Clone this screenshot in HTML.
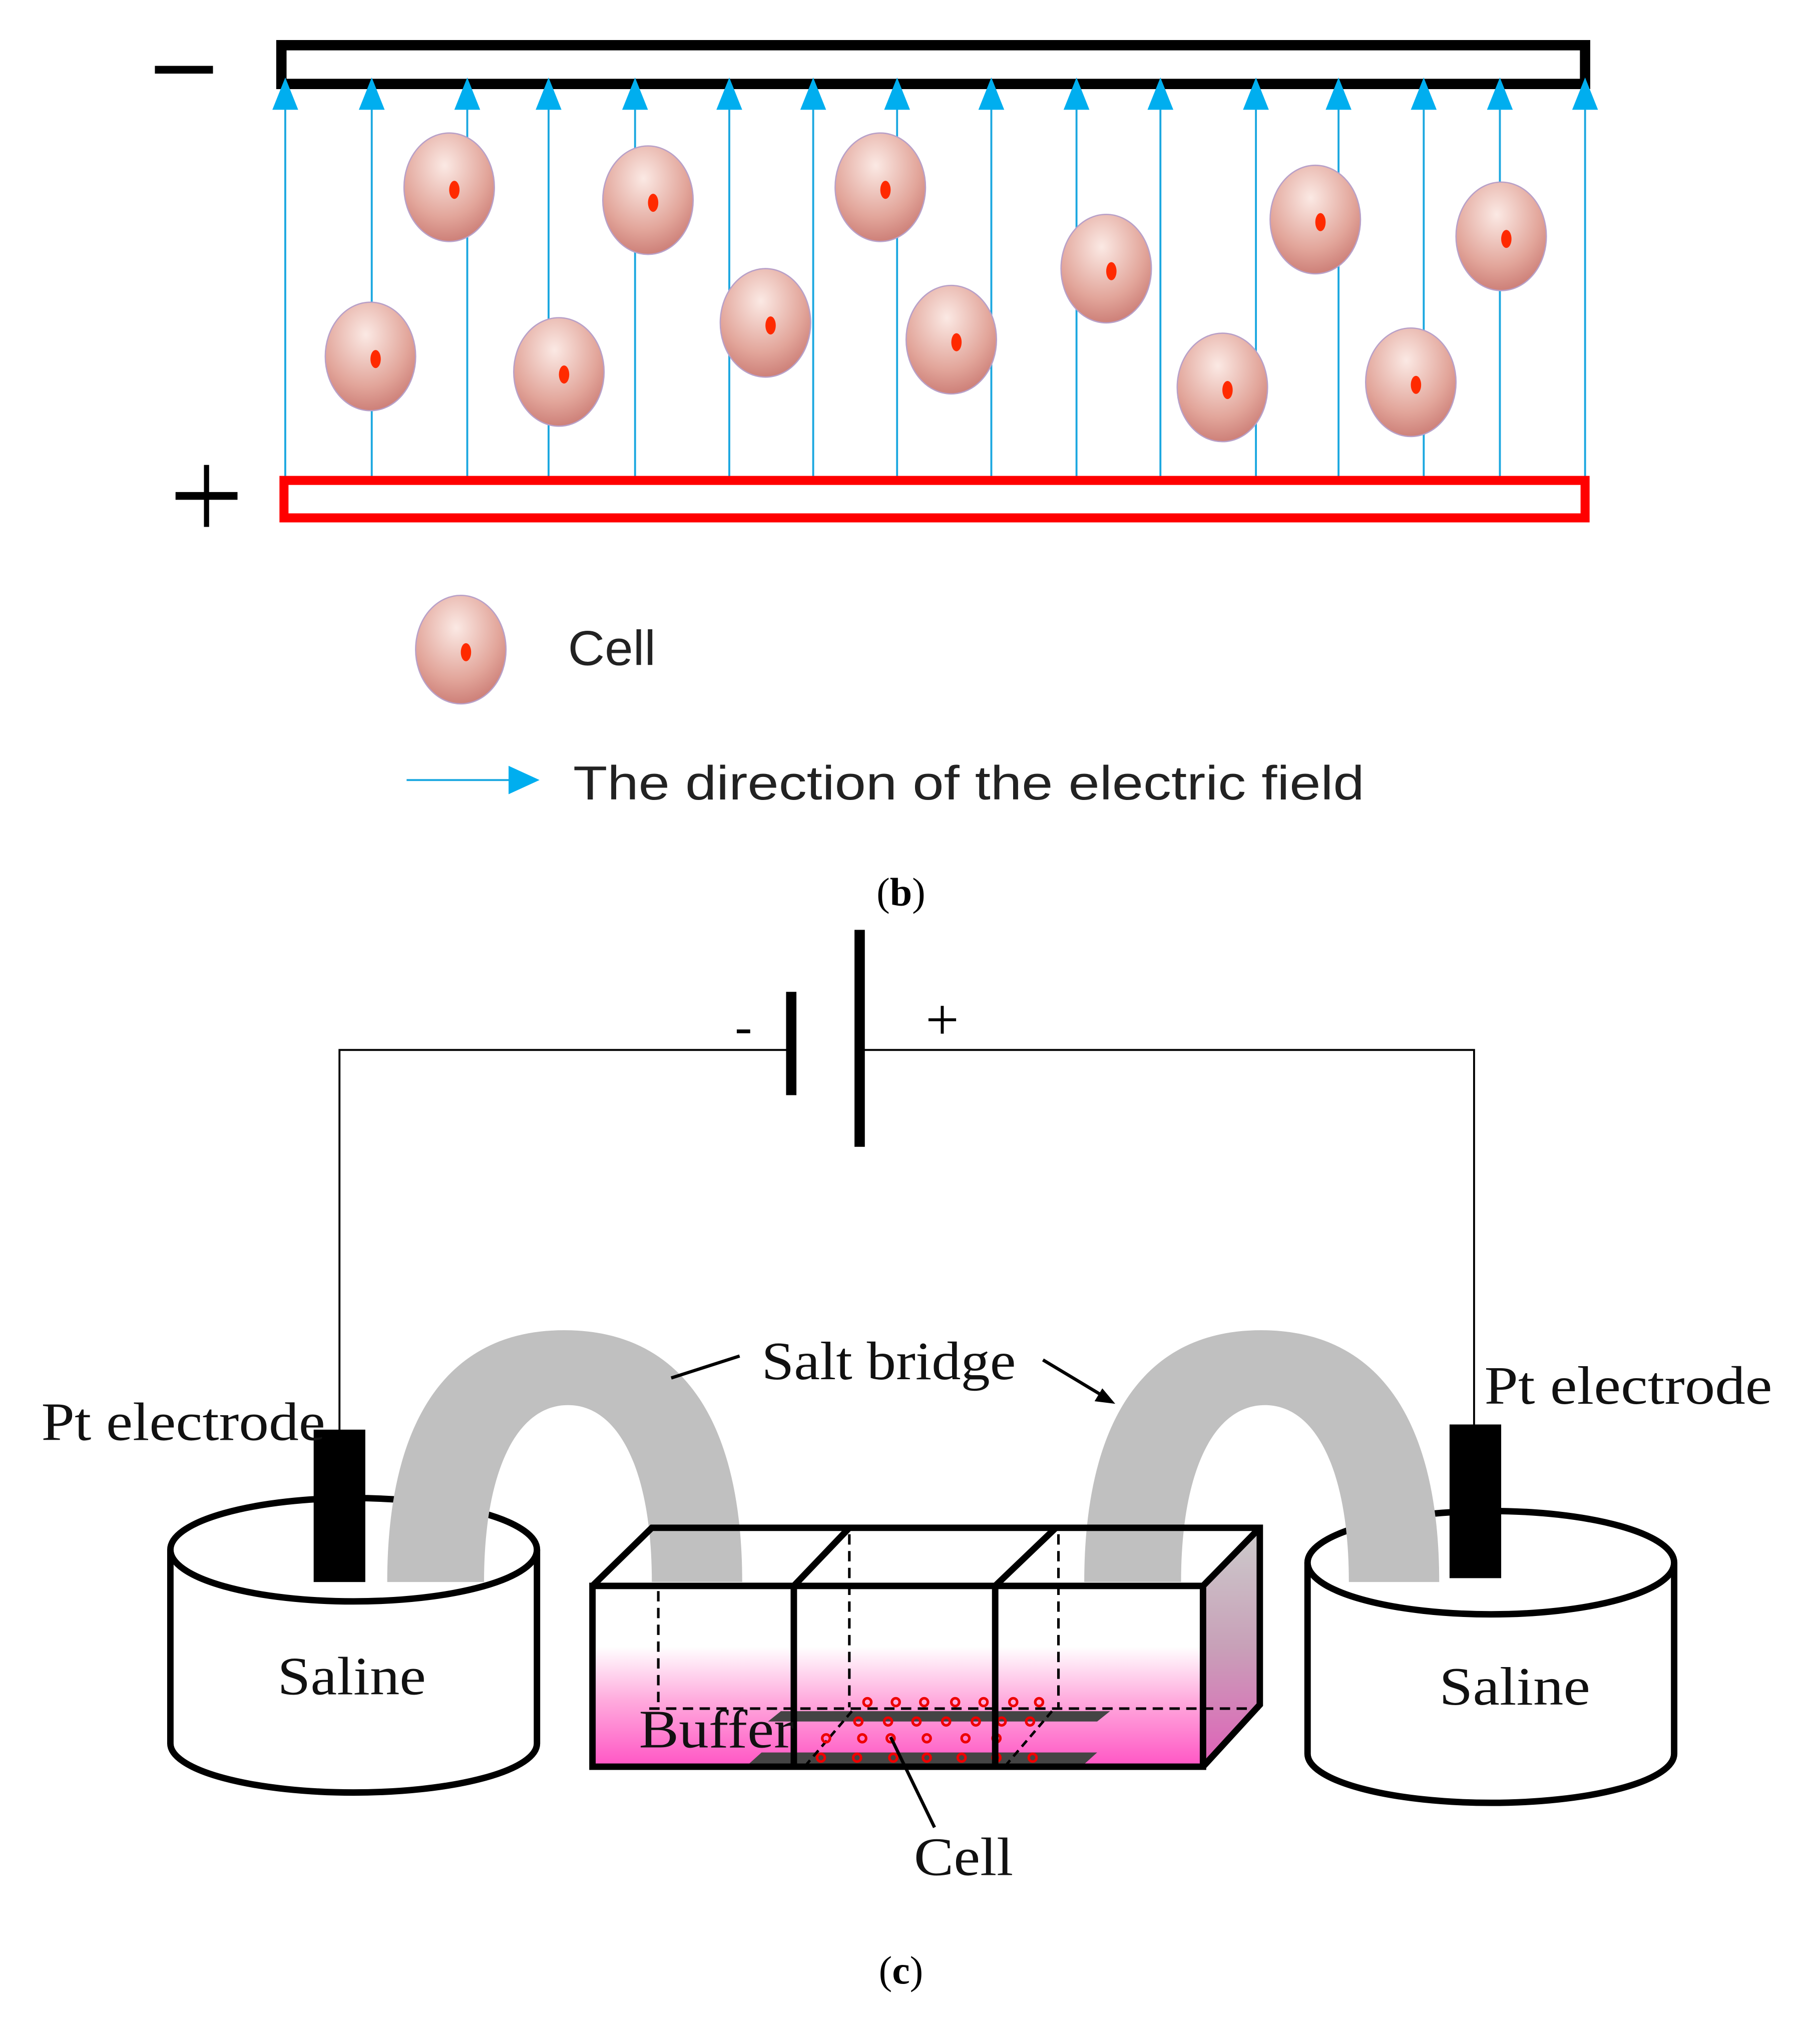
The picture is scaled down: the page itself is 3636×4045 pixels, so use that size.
<!DOCTYPE html>
<html><head><meta charset="utf-8"><style>
html,body{margin:0;padding:0;background:#fff}
svg{display:block}
</style></head><body>
<svg width="3636" height="4045" viewBox="0 0 1410 1568" preserveAspectRatio="none" xmlns="http://www.w3.org/2000/svg">
<defs>
<radialGradient id="cg" cx="0.45" cy="0.3" r="0.8">
<stop offset="0" stop-color="#fbe9e4"/><stop offset="0.6" stop-color="#e2a59a"/><stop offset="1" stop-color="#c4706a"/>
</radialGradient>
<linearGradient id="pk" x1="0" y1="0" x2="0" y2="1">
<stop offset="0" stop-color="#fff"/><stop offset="0.45" stop-color="#ffaadd"/><stop offset="1" stop-color="#ff55c4"/>
</linearGradient>
<linearGradient id="sd" x1="0" y1="0" x2="0" y2="1">
<stop offset="0" stop-color="#cccccc"/><stop offset="0.5" stop-color="#c8a0b8"/><stop offset="1" stop-color="#e060b8"/>
</linearGradient>
<g id="cell"><ellipse cx="0" cy="0" rx="35" ry="42" fill="url(#cg)" stroke="#b8a0c8" stroke-width="1"/><ellipse cx="4" cy="2" rx="4" ry="7" fill="#ff2a00"/></g>
</defs>
<!-- (b) -->
<rect x="218" y="35" width="1010" height="30" fill="none" stroke="#000" stroke-width="8"/>
<rect x="120" y="51" width="45" height="6" fill="#000"/>
<g stroke="#1aa7e0" stroke-width="1.5">
<line x1="221" y1="80" x2="221" y2="372"/><line x1="288" y1="80" x2="288" y2="372"/><line x1="362" y1="80" x2="362" y2="372"/><line x1="425" y1="80" x2="425" y2="372"/><line x1="492" y1="80" x2="492" y2="372"/><line x1="565" y1="80" x2="565" y2="372"/><line x1="630" y1="80" x2="630" y2="372"/><line x1="695" y1="80" x2="695" y2="372"/><line x1="768" y1="80" x2="768" y2="372"/><line x1="834" y1="80" x2="834" y2="372"/><line x1="899" y1="80" x2="899" y2="372"/><line x1="973" y1="80" x2="973" y2="372"/><line x1="1037" y1="80" x2="1037" y2="372"/><line x1="1103" y1="80" x2="1103" y2="372"/><line x1="1162" y1="80" x2="1162" y2="372"/><line x1="1228" y1="80" x2="1228" y2="372"/>
</g>
<g fill="#00aeef">
<path d="M221 60l-10 25h20z"/><path d="M288 60l-10 25h20z"/><path d="M362 60l-10 25h20z"/><path d="M425 60l-10 25h20z"/><path d="M492 60l-10 25h20z"/><path d="M565 60l-10 25h20z"/><path d="M630 60l-10 25h20z"/><path d="M695 60l-10 25h20z"/><path d="M768 60l-10 25h20z"/><path d="M834 60l-10 25h20z"/><path d="M899 60l-10 25h20z"/><path d="M973 60l-10 25h20z"/><path d="M1037 60l-10 25h20z"/><path d="M1103 60l-10 25h20z"/><path d="M1162 60l-10 25h20z"/><path d="M1228 60l-10 25h20z"/>
</g>
<use href="#cell" x="348" y="145"/><use href="#cell" x="502" y="155"/><use href="#cell" x="682" y="145"/><use href="#cell" x="287" y="276"/><use href="#cell" x="433" y="288"/><use href="#cell" x="593" y="250"/><use href="#cell" x="737" y="263"/><use href="#cell" x="857" y="208"/><use href="#cell" x="947" y="300"/><use href="#cell" x="1019" y="170"/><use href="#cell" x="1093" y="296"/><use href="#cell" x="1163" y="183"/>
<rect x="220" y="372" width="1008" height="29" fill="none" stroke="#ff0000" stroke-width="7"/>
<rect x="136" y="381" width="48" height="6" fill="#000"/><rect x="158" y="360" width="4" height="48" fill="#000"/>
<use href="#cell" x="357" y="503"/>
<text x="440" y="515" font-family="Liberation Sans, sans-serif" font-size="38" fill="#222" textLength="68" lengthAdjust="spacingAndGlyphs">Cell</text>
<line x1="315" y1="604" x2="398" y2="604" stroke="#1aa7e0" stroke-width="1.5"/>
<path d="M418 604l-24-11v22z" fill="#00aeef"/>
<text x="444" y="619" font-family="Liberation Sans, sans-serif" font-size="37" fill="#222" textLength="613" lengthAdjust="spacingAndGlyphs">The direction of the electric field</text>
<text x="698" y="701" text-anchor="middle" font-family="Liberation Serif, serif" font-size="31">(<tspan font-weight="bold">b</tspan>)</text>
<!-- (c) -->
<g stroke="#000" stroke-width="1.5" fill="none">
<polyline points="263,1108 263,813 613,813"/><polyline points="666,813 1142,813 1142,1105"/>
</g>
<rect x="609" y="768" width="8" height="80" fill="#000"/>
<rect x="662" y="720" width="8" height="168" fill="#000"/>
<text x="576" y="808" text-anchor="middle" font-family="Liberation Serif, serif" font-size="40">-</text>
<text x="730" y="805" text-anchor="middle" font-family="Liberation Serif, serif" font-size="46">+</text>
<path d="M132 1200 V1350 A142 38 0 0 0 416 1350 V1200" fill="#fff" stroke="#000" stroke-width="5"/>
<ellipse cx="274" cy="1200" rx="142" ry="40" fill="#fff" stroke="#000" stroke-width="5"/>
<path d="M1013 1210 V1358 A142 38 0 0 0 1297 1358 V1210" fill="#fff" stroke="#000" stroke-width="5"/>
<ellipse cx="1155" cy="1210" rx="142" ry="40" fill="#fff" stroke="#000" stroke-width="5"/>
<rect x="459" y="1275" width="473" height="93" fill="url(#pk)"/>
<polygon points="932,1228 976,1183 976,1320 932,1368" fill="url(#sd)"/>
<g stroke="#000" stroke-width="2" stroke-dasharray="8,5" fill="none">
<line x1="510" y1="1232" x2="510" y2="1322"/><line x1="658" y1="1188" x2="658" y2="1322"/><line x1="820" y1="1188" x2="820" y2="1322"/>
<line x1="503" y1="1323" x2="976" y2="1323"/>
</g>
<polygon points="605,1325 860,1325 850,1333 595,1333" fill="#444"/>
<polygon points="590,1357 850,1357 840,1366 580,1366" fill="#444"/>
<g stroke="#000" stroke-width="2" stroke-dasharray="6,4"><line x1="660" y1="1325" x2="625" y2="1366"/><line x1="815" y1="1325" x2="780" y2="1366"/></g>
<g fill="none" stroke="#e00" stroke-width="2">
<circle cx="672" cy="1318" r="3"/><circle cx="694" cy="1318" r="3"/><circle cx="716" cy="1318" r="3"/><circle cx="740" cy="1318" r="3"/><circle cx="762" cy="1318" r="3"/><circle cx="785" cy="1318" r="3"/><circle cx="805" cy="1318" r="3"/>
<circle cx="665" cy="1333" r="3"/><circle cx="688" cy="1333" r="3"/><circle cx="710" cy="1333" r="3"/><circle cx="733" cy="1333" r="3"/><circle cx="756" cy="1333" r="3"/><circle cx="776" cy="1333" r="3"/><circle cx="798" cy="1333" r="3"/>
<circle cx="640" cy="1346" r="3"/><circle cx="668" cy="1346" r="3"/><circle cx="690" cy="1346" r="3"/><circle cx="718" cy="1346" r="3"/><circle cx="748" cy="1346" r="3"/><circle cx="772" cy="1346" r="3"/>
<circle cx="636" cy="1361" r="3"/><circle cx="664" cy="1361" r="3"/><circle cx="692" cy="1361" r="3"/><circle cx="718" cy="1361" r="3"/><circle cx="745" cy="1361" r="3"/><circle cx="772" cy="1361" r="3"/><circle cx="800" cy="1361" r="3"/>
</g>
<path d="M300 1225 C300 1110 340 1030 437 1030 C535 1030 575 1110 575 1225 H505 C505 1140 480 1088 440 1088 C400 1088 375 1140 375 1225 Z" fill="#c0c0c0"/>
<path d="M840 1225 C840 1110 880 1030 977 1030 C1075 1030 1115 1110 1115 1225 H1045 C1045 1140 1020 1088 980 1088 C940 1088 915 1140 915 1225 Z" fill="#c0c0c0"/>
<g stroke="#000" stroke-width="5" fill="none">
<rect x="459" y="1228" width="473" height="140"/>
<polyline points="459,1228 505,1183 976,1183 976,1320 932,1368"/>
<line x1="932" y1="1228" x2="976" y2="1183"/>
<polyline points="615,1368 615,1228 658,1183"/>
<polyline points="771,1368 771,1228 818,1183"/>
</g>
<rect x="243" y="1107" width="40" height="118" fill="#000"/>
<rect x="1123" y="1103" width="40" height="119" fill="#000"/>
<g font-family="Liberation Serif, serif" font-size="42" fill="#111" lengthAdjust="spacingAndGlyphs">
<text x="32" y="1115" textLength="220" lengthAdjust="spacingAndGlyphs">Pt electrode</text>
<text x="1150" y="1087" textLength="223" lengthAdjust="spacingAndGlyphs">Pt electrode</text>
<text x="590" y="1068" textLength="197" lengthAdjust="spacingAndGlyphs">Salt bridge</text>
<text x="215" y="1312" textLength="115" lengthAdjust="spacingAndGlyphs">Saline</text>
<text x="1115" y="1320" textLength="117" lengthAdjust="spacingAndGlyphs">Saline</text>
<text x="495" y="1353" textLength="120" lengthAdjust="spacingAndGlyphs">Buffer</text>
<text x="708" y="1452" textLength="77" lengthAdjust="spacingAndGlyphs">Cell</text>
</g>
<g stroke="#000" stroke-width="2.5" fill="none">
<line x1="573" y1="1050" x2="520" y2="1067"/>
<line x1="808" y1="1053" x2="858" y2="1083"/>
<line x1="690" y1="1345" x2="724" y2="1415"/>
</g>
<path d="M864 1087l-16-2 6-10z" fill="#000"/>
<text x="698" y="1536" text-anchor="middle" font-family="Liberation Serif, serif" font-size="31">(<tspan font-weight="bold">c</tspan>)</text>
</svg>
</body></html>
